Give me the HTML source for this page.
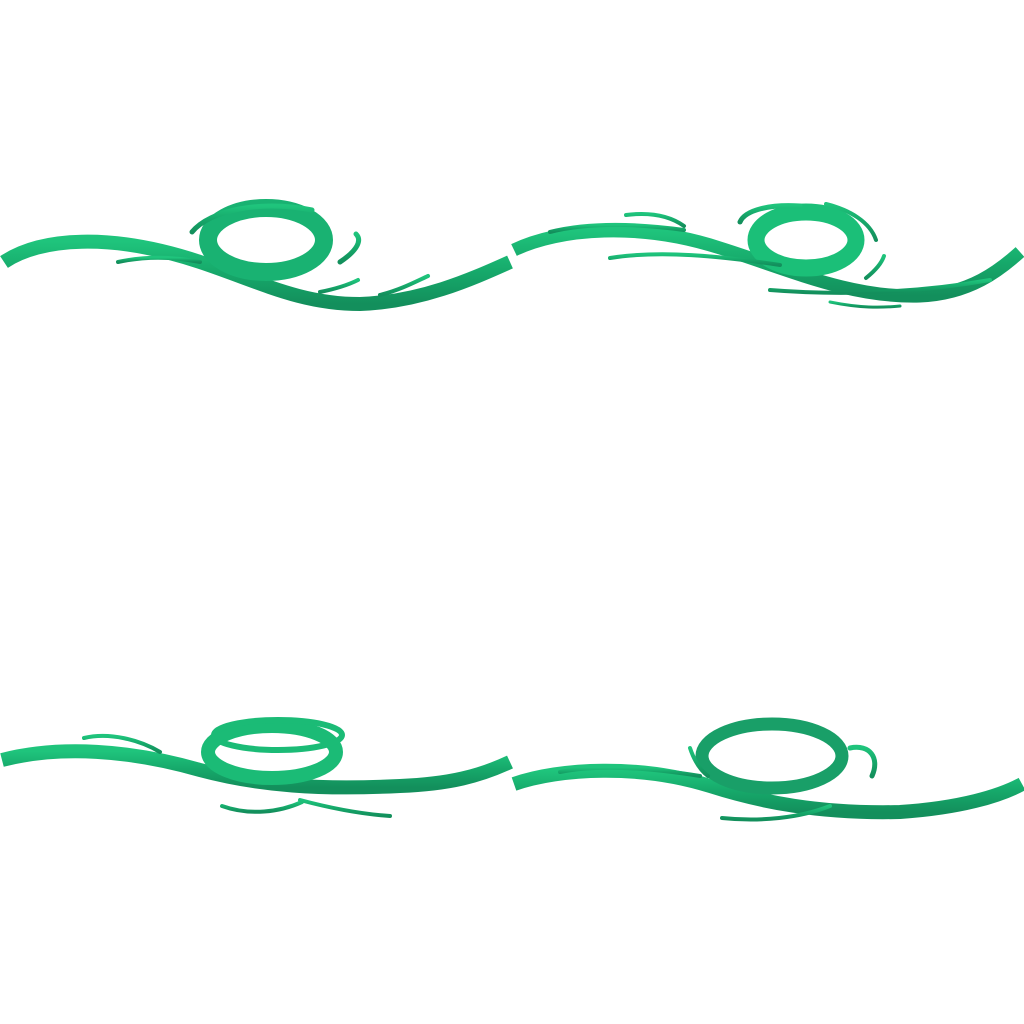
<!DOCTYPE html>
<html><head><meta charset="utf-8"><style>
html,body{margin:0;padding:0;background:#fff;}
svg{display:block;}
</style></head><body>
<svg width="1024" height="1024" viewBox="0 0 1024 1024">
<defs>
<linearGradient id="g" x1="0" y1="0" x2="0" y2="1">
<stop offset="0" stop-color="#1fc47c"/><stop offset="0.5" stop-color="#16a86a"/><stop offset="1" stop-color="#138f5c"/>
</linearGradient>
</defs>
<g fill="none" stroke="url(#g)" stroke-linecap="round">
<path d="M4,262 C40,238 110,232 200,262 C260,282 300,304 360,304 C420,302 470,280 510,262" stroke-width="14" stroke-linecap="butt"/>
<ellipse cx="266" cy="240" rx="58" ry="32" stroke-width="18" stroke="#19b272"/>
<path d="M118,262 C150,255 180,258 200,262" stroke-width="4"/>
<path d="M192,232 C210,210 260,200 312,210" stroke-width="5"/>
<path d="M340,262 C358,250 362,240 356,234" stroke-width="5"/>
<path d="M320,292 C340,288 350,284 358,280" stroke-width="4"/>
<path d="M380,295 C400,290 415,282 428,276" stroke-width="4"/>
</g>
<g fill="none" stroke="url(#g)" stroke-linecap="round">
<path d="M514,250 C560,228 640,222 720,248 C790,270 850,298 920,296 C970,294 1000,270 1020,252" stroke-width="13" stroke-linecap="butt"/>
<ellipse cx="806" cy="240" rx="50" ry="28" stroke-width="17" stroke="#1bbf78"/>
<path d="M550,232 C590,222 640,224 684,230" stroke-width="4"/>
<path d="M610,258 C660,250 720,256 780,265" stroke-width="4"/>
<path d="M626,215 C650,212 670,216 684,226" stroke-width="4"/>
<path d="M740,222 C745,210 770,204 800,206" stroke-width="5"/>
<path d="M826,204 C850,210 870,222 876,240" stroke-width="4"/>
<path d="M866,278 C876,270 882,262 884,256" stroke-width="4"/>
<path d="M770,290 C820,294 900,296 990,280" stroke-width="4"/>
<path d="M830,302 C860,308 880,308 900,306" stroke-width="3"/>
</g>
<g fill="none" stroke="url(#g)" stroke-linecap="round">
<path d="M2,760 C60,745 130,750 200,770 C260,786 320,790 400,786 C450,784 480,776 510,762" stroke-width="14" stroke-linecap="butt"/>
<ellipse cx="272" cy="752" rx="64" ry="26" stroke-width="14" stroke="#1bbb76"/>
<ellipse cx="278" cy="735" rx="64" ry="15" stroke-width="6" stroke="#1bbb76"/>
<path d="M84,738 C110,732 140,740 160,752" stroke-width="4"/>
<path d="M222,806 C250,816 280,812 302,802" stroke-width="4"/>
<path d="M300,800 C330,808 360,814 390,816" stroke-width="4"/>
</g>
<g fill="none" stroke="url(#g)" stroke-linecap="round">
<path d="M514,784 C560,768 640,764 710,786 C760,802 820,814 900,812 C960,808 1000,796 1022,784" stroke-width="14" stroke-linecap="butt"/>
<ellipse cx="772" cy="756" rx="70" ry="32" stroke-width="13" stroke="#199f68"/>
<path d="M560,772 C600,764 650,768 700,776" stroke-width="4"/>
<path d="M722,818 C760,822 800,818 830,806" stroke-width="4"/>
<path d="M850,748 C870,744 880,758 872,776" stroke-width="5"/>
<path d="M690,748 C694,760 700,770 708,776" stroke-width="4"/>
</g>
</svg>
</body></html>
